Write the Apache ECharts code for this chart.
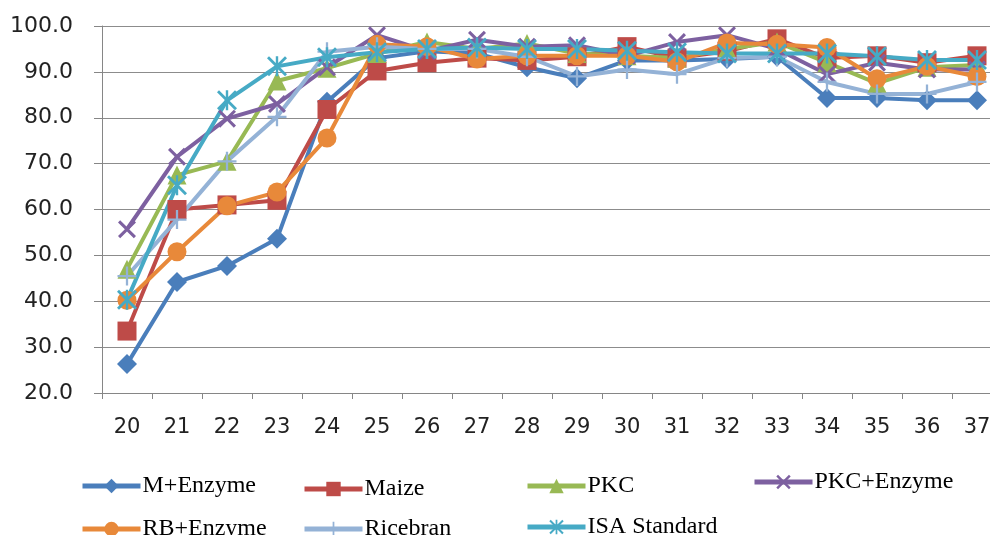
<!DOCTYPE html>
<html>
<head>
<meta charset="utf-8">
<script src="https://cdn.jsdelivr.net/npm/echarts@6/dist/echarts.min.js"></script>
<style>
html,body{margin:0;padding:0;background:#fff;overflow:hidden;width:990px;height:535px;}
#chart{width:1012px;height:535px;}
</style>
</head>
<body>
<div id="chart"></div>
<script>
var categories = ['20','21','22','23','24','25','26','27','28','29','30','31','32','33','34','35','36','37'];
var mEnzyme   = [26.3,44.2,47.7,53.6,83.5,93.0,94.5,94.0,91.0,88.6,92.5,92.5,92.8,93.3,84.3,84.3,83.8,83.8];
var maize     = [33.5,60.0,61.0,62.0,81.8,90.2,92.0,93.0,92.5,93.3,95.5,93.0,94.5,97.2,93.0,93.5,92.0,93.5];
var pkc       = [47.0,67.5,70.5,88.0,90.8,94.0,96.5,95.0,96.2,94.0,93.5,93.0,95.0,96.5,92.0,87.5,91.0,91.5];
var pkcEnzyme = [55.7,71.5,79.8,83.0,91.0,98.0,94.5,97.0,95.5,95.8,93.5,96.5,98.0,95.0,89.5,92.0,90.5,90.5];
var rbEnzyme  = [40.2,50.8,60.8,63.8,75.6,96.0,95.5,92.8,93.5,93.5,93.5,92.2,96.3,96.0,95.3,88.5,91.2,89.0];
var ricebran  = [45.5,57.8,70.5,80.2,94.4,95.5,95.0,95.0,93.3,89.0,90.5,89.5,93.0,93.3,87.8,85.2,85.2,87.8];
var isaStd    = [40.3,65.3,83.8,91.2,93.2,94.3,95.0,95.3,95.0,95.0,94.6,94.3,94.0,94.0,94.0,93.4,92.6,92.6];
var yTicks = {min:20, max:100, interval:10};

var X_PATH = 'path://M0,12 L12,0 L50,38 L88,0 L100,12 L62,50 L100,88 L88,100 L50,62 L12,100 L0,88 L38,50 Z';
var PLUS_PATH = 'path://M44,0 L56,0 L56,44 L100,44 L100,56 L56,56 L56,100 L44,100 L44,56 L0,56 L0,44 L44,44 Z';
var STAR_PATH = 'path://M0,10 L10,0 L50,40 L90,0 L100,10 L60,50 L100,90 L90,100 L50,60 L10,100 L0,90 L40,50 Z M44,0 L56,0 L56,100 L44,100 Z';

var seriesDefs = [
  {name:'M+Enzyme', data:mEnzyme, color:'#4a7ebb', symbol:'diamond', size:20},
  {name:'Maize', data:maize, color:'#be4b48', symbol:'rect', size:19},
  {name:'PKC', data:pkc, color:'#98b954', symbol:'triangle', size:19},
  {name:'PKC+Enzyme', data:pkcEnzyme, color:'#7d60a0', symbol:X_PATH, size:18},
  {name:'RB+Enzyme', data:rbEnzyme, color:'#e8893a', symbol:'circle', size:19},
  {name:'Ricebran', data:ricebran, color:'#94b2d6', symbol:PLUS_PATH, size:19},
  {name:'ISA Standard', data:isaStd, color:'#46aac5', symbol:STAR_PATH, size:20}
];

var legendPos = [
  {left:75, top:469},{left:297, top:472},{left:520, top:469},{left:747, top:465},
  {left:75, top:512},{left:297, top:512},{left:520, top:510}
];

var chart = echarts.init(document.getElementById('chart'), null, {renderer:'canvas'});
var option = {
  animation:false,
  backgroundColor:'#ffffff',
  grid:{left:102, top:26, right:10, bottom:142, containLabel:false},
  legend: seriesDefs.map(function(s,i){
    return {
      data:[s.name], left:legendPos[i].left, top:legendPos[i].top,
      itemWidth:58, itemHeight:18, itemGap:4,
      lineStyle:{width:5},
      textStyle:{fontFamily:'Liberation Serif', fontSize:24, color:'#000', padding:[0,0,0,-3]},
      selectedMode:false
    };
  }),
  xAxis:{
    type:'category', data:categories, boundaryGap:true,
    axisLine:{lineStyle:{color:'#868686', width:1}},
    axisTick:{show:true, length:6, lineStyle:{color:'#868686'}},
    axisLabel:{fontFamily:'DejaVu Sans', fontSize:21, color:'#222', margin:24}
  },
  yAxis:{
    type:'value', min:yTicks.min, max:yTicks.max, interval:yTicks.interval,
    axisLine:{show:true, lineStyle:{color:'#868686', width:1}},
    axisTick:{show:true, length:8, lineStyle:{color:'#868686'}},
    splitLine:{show:true, lineStyle:{color:'#8c8c8c', width:1}},
    axisLabel:{fontFamily:'DejaVu Sans', fontSize:22, color:'#222', margin:29,
      formatter:function(v){return v.toFixed(1);}}
  },
  series: seriesDefs.map(function(s){
    return {
      name:s.name, type:'line', data:s.data,
      symbol:s.symbol, symbolSize:s.size, showAllSymbol:true,
      lineStyle:{color:s.color, width:4},
      itemStyle:{color:s.color, borderWidth:0},
      emphasis:{disabled:true}
    };
  })
};
chart.setOption(option);
</script>
</body>
</html>
